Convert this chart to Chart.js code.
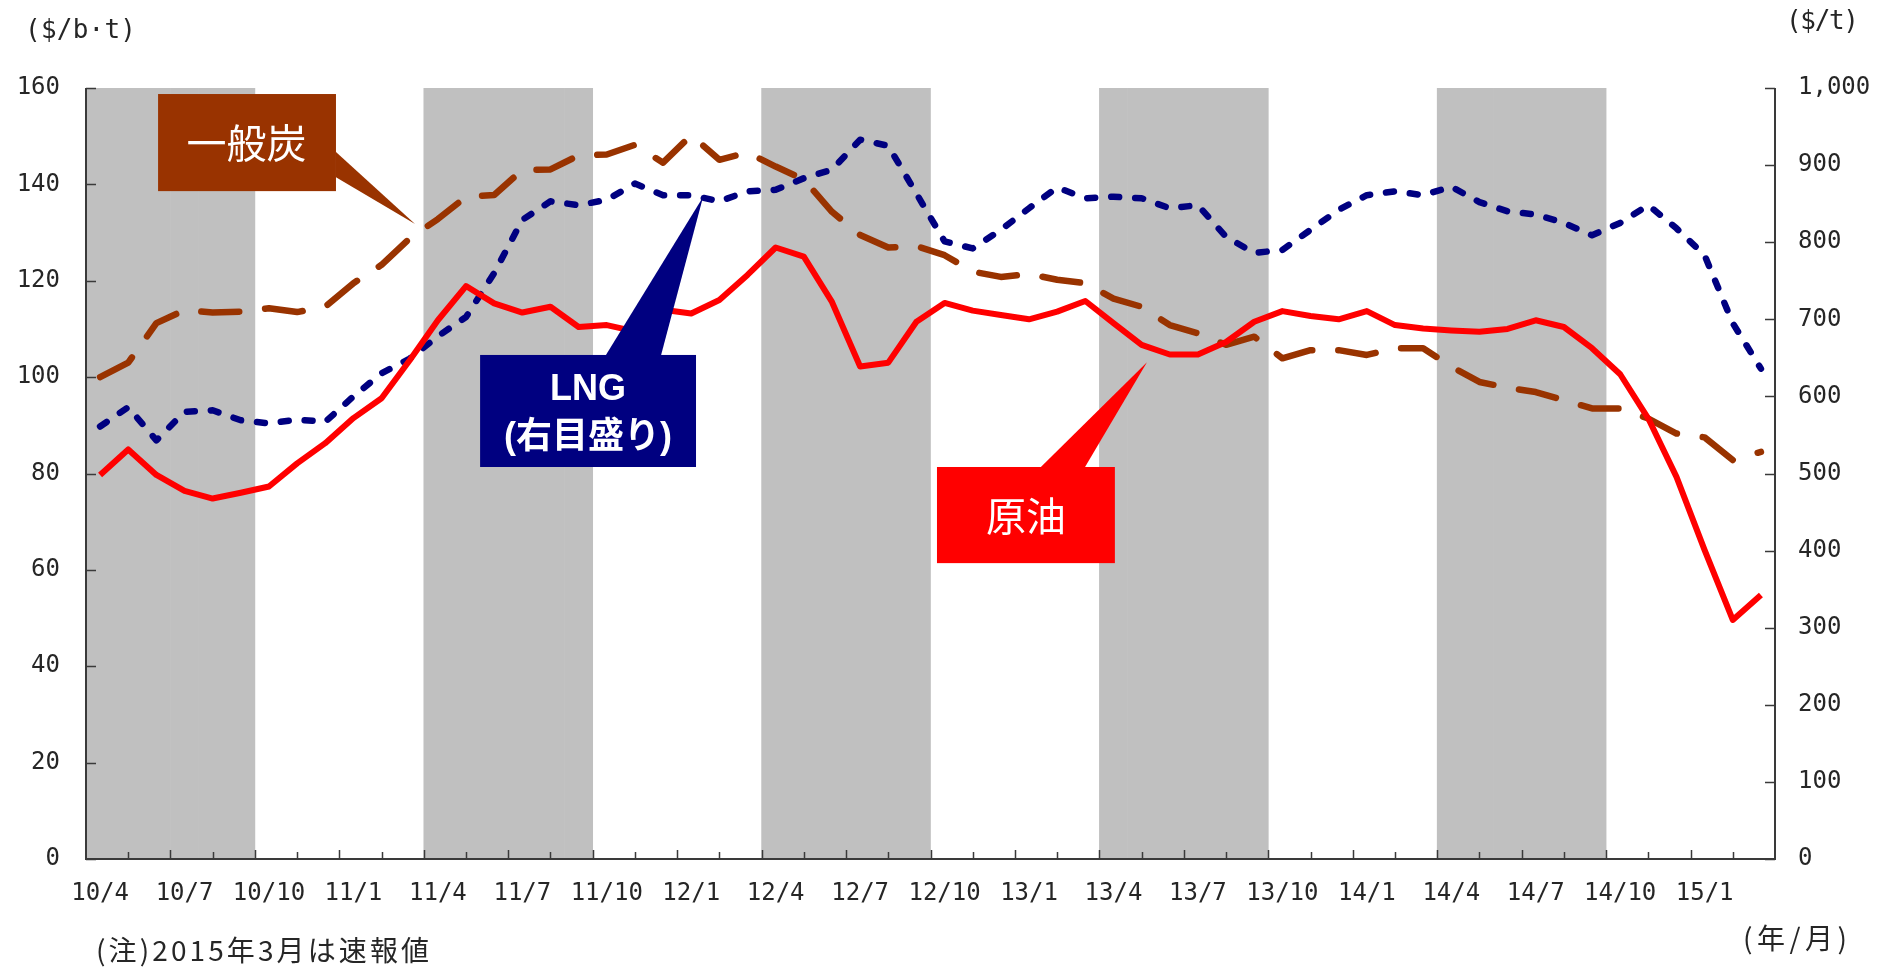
<!DOCTYPE html>
<html>
<head>
<meta charset="utf-8">
<script src="https://cdn.jsdelivr.net/npm/chart.js@4.4.1/dist/chart.umd.min.js"></script>
<style>
html,body{margin:0;padding:0;background:#ffffff;}
#wrap{width:1880px;height:968px;position:relative;}
</style>
</head>
<body>
<div id="wrap"><canvas id="c" width="1880" height="968"></canvas></div>
<script>
// ---- categories (year/month) ----
const months = [
  '10/4','10/5','10/6','10/7','10/8','10/9','10/10','10/11','10/12',
  '11/1','11/2','11/3','11/4','11/5','11/6','11/7','11/8','11/9','11/10','11/11','11/12',
  '12/1','12/2','12/3','12/4','12/5','12/6','12/7','12/8','12/9','12/10','12/11','12/12',
  '13/1','13/2','13/3','13/4','13/5','13/6','13/7','13/8','13/9','13/10','13/11','13/12',
  '14/1','14/2','14/3','14/4','14/5','14/6','14/7','14/8','14/9','14/10','14/11','14/12',
  '15/1','15/2','15/3'
];
// months labelled on the axis
const labelledMonths = ['10/4','10/7','10/10','11/1','11/4','11/7','11/10','12/1','12/4','12/7','12/10',
  '13/1','13/4','13/7','13/10','14/1','14/4','14/7','14/10','15/1'];

// ---- shaded periods (Apr–Sep) ----
const shade = [
  1,1,1,1,1,1,null,null,null,null,null,null,
  1,1,1,1,1,1,null,null,null,null,null,null,
  1,1,1,1,1,1,null,null,null,null,null,null,
  1,1,1,1,1,1,null,null,null,null,null,null,
  1,1,1,1,1,1,null,null,null,null,null,null
];

// ---- series ----
// 一般炭 ($/t, left axis)
const coal = [
  100.0,103.0,111.2,113.9,113.4,113.6,114.3,113.5,114.6,119.5,123.3,128.8,
  132.8,137.4,137.8,143.0,143.1,146.0,146.2,148.2,144.5,150.2,145.1,146.6,
  143.7,141.0,134.3,129.5,126.9,127.2,125.3,121.9,120.8,121.4,120.2,119.5,
  116.3,114.6,110.8,109.1,106.7,108.4,103.9,105.6,105.6,104.6,106.0,106.0,
  102.2,99.0,97.8,96.9,95.2,93.5,93.5,91.4,88.3,87.5,82.8,84.5
];
// 原油 ($/b, left axis)
const crude = [
  79.7,85.0,79.7,76.4,74.8,76.0,77.3,82.1,86.3,91.5,95.6,103.5,
  111.8,118.9,115.3,113.4,114.6,110.4,110.8,109.5,114.0,113.2,116.0,121.2,
  126.9,125.0,115.6,102.2,103.0,111.5,115.4,113.8,112.9,112.0,113.6,115.8,
  111.2,106.7,104.7,104.7,107.3,111.5,113.7,112.7,112.0,113.7,110.8,110.1,
  109.7,109.4,110.0,111.8,110.4,106.0,100.6,91.4,79.3,64.1,49.6,54.8
];
// LNG ($/t, right axis)
const lng = [
  561,586,543,580,582,569,565,570,567,600,630,649,
  678,703,760,829,853,848,855,876,861,861,853,866,
  868,883,894,933,925,863,801,792,816,844,871,857,
  859,857,844,848,807,786,790,816,842,861,866,861,
  872,852,840,836,825,809,825,848,818,783,695,636
];

// ---- axis ticks ----
const leftTicks = [0,20,40,60,80,100,120,140,160];
const rightTicks = [0,100,200,300,400,500,600,700,800,900,1000];

// ---- texts ----
const leftUnit = '($/b·t)';
const rightUnit = '($/t)';
const xUnit = '(年/月)';
const note = '(注)2015年3月は速報値';

// ---- callouts (positions in month index / left-axis value) ----
const callouts = [
  { fill:'#993300', box:[2.56,158.75,8.88,138.6],
    tri:[[8.88,146.7],[11.69,131.8],[8.88,141.5]],
    lines:[{t:'一般炭', m:5.70, v:148.6, font:'40px "Noto Sans CJK JP"'}] },
  { fill:'#000080', box:[14.0,104.6,21.67,81.35],
    tri:[[18.47,104.6],[21.92,137.4],[20.43,104.6]],
    lines:[{t:'LNG', m:17.83, v:97.3, font:'bold 36px "Liberation Sans", Arial, sans-serif'},
           {t:'(右目盛り)', m:17.83, v:87.4, font:'bold 36px "Liberation Sans", "Noto Sans CJK JP", sans-serif'}] },
  { fill:'#ff0000', box:[30.23,81.35,36.55,61.4],
    tri:[[33.92,81.35],[37.69,103.1],[35.49,81.35]],
    lines:[{t:'原油', m:33.39, v:71.2, font:'40px "Noto Sans CJK JP"'}] }
];

const AXIS_COLOR = '#3a3a3a';
const TEXT_COLOR = '#262626';
const tickFont = {family:'"DejaVu Sans Mono", monospace', size:24};

function fitText(ctx, text, x, cy, width){
  const chars = Array.from(text);
  const ws = chars.map(c => ctx.measureText(c).width);
  const total = ws.reduce((a,b)=>a+b,0);
  const sp = chars.length > 1 ? (width - total)/(chars.length - 1) : 0;
  ctx.textAlign = 'left';
  ctx.textBaseline = 'middle';
  let cx = x;
  chars.forEach((c,i)=>{ ctx.fillText(c, cx, cy); cx += ws[i] + sp; });
}

const overlay = {
  id:'overlay',
  afterDatasetsDraw(chart){
    const ctx = chart.ctx;
    const xs = chart.scales.x, yl = chart.scales.y, yr = chart.scales.y2;
    const area = chart.chartArea;
    const px = m => xs.getPixelForValue(m - 0.5);
    const py = v => yl.getPixelForValue(v);
    ctx.save();
    // axis lines
    ctx.strokeStyle = AXIS_COLOR;
    ctx.lineWidth = 2;
    ctx.beginPath();
    ctx.moveTo(area.left, area.top); ctx.lineTo(area.left, area.bottom);
    ctx.lineTo(area.right, area.bottom); ctx.lineTo(area.right, area.top);
    ctx.stroke();
    // tick marks (inside)
    ctx.lineWidth = 1.5;
    ctx.beginPath();
    leftTicks.forEach(v => { const y = Math.round(yl.getPixelForValue(v)) + 0.5; ctx.moveTo(area.left, y); ctx.lineTo(area.left + 10, y); });
    rightTicks.forEach(v => { const y = Math.round(yr.getPixelForValue(v)) + 0.5; ctx.moveTo(area.right, y); ctx.lineTo(area.right - 10, y); });
    for (let j = 1; j < 40; j++) {
      const m = j * 1.5;
      const x = Math.round(px(m)) + 0.5;
      const len = (j % 2 === 0) ? 9 : 7;
      ctx.moveTo(x, area.bottom); ctx.lineTo(x, area.bottom - len);
    }
    ctx.stroke();
    // callouts
    callouts.forEach(c => {
      ctx.fillStyle = c.fill;
      const x0 = px(c.box[0]), y0 = py(c.box[1]), x1 = px(c.box[2]), y1 = py(c.box[3]);
      ctx.fillRect(x0, y0, x1 - x0, y1 - y0);
      ctx.beginPath();
      c.tri.forEach((p,i) => { const X = px(p[0]), Y = py(p[1]); if (i===0) ctx.moveTo(X,Y); else ctx.lineTo(X,Y); });
      ctx.closePath();
      ctx.fill();
      ctx.fillStyle = '#ffffff';
      ctx.textAlign = 'center';
      ctx.textBaseline = 'middle';
      c.lines.forEach(l => { ctx.font = l.font; ctx.fillText(l.t, px(l.m), py(l.v)); });
    });
    // units & note
    ctx.fillStyle = TEXT_COLOR;
    ctx.font = '26px "DejaVu Sans Mono", monospace';
    fitText(ctx, leftUnit, 25, 31, 111);
    fitText(ctx, rightUnit, 1786, 22, 73);
    ctx.font = '28px "Noto Sans CJK JP"';
    fitText(ctx, xUnit, 1743, 938, 104);
    fitText(ctx, note, 96, 950, 333);
    ctx.restore();
  }
};

new Chart(document.getElementById('c').getContext('2d'), {
  data: {
    labels: months,
    datasets: [
      { type:'bar', data: shade, yAxisID:'yb', backgroundColor:'#c0c0c0', borderWidth:0,
        barPercentage:1, categoryPercentage:1, order:10 },
      { type:'line', label:'一般炭', data: coal, yAxisID:'y', borderColor:'#993300', borderWidth:6.5,
        borderDash:[38,26], borderCapStyle:'round', borderJoinStyle:'round', pointRadius:0, tension:0, fill:false, order:3 },
      { type:'line', label:'LNG', data: lng, yAxisID:'y2', borderColor:'#000080', borderWidth:6.5,
        borderDash:[8,16], borderCapStyle:'round', borderJoinStyle:'round', pointRadius:0, tension:0, fill:false, order:2 },
      { type:'line', label:'原油', data: crude, yAxisID:'y', borderColor:'#ff0000', borderWidth:6,
        borderJoinStyle:'round', pointRadius:0, tension:0, fill:false, order:1 }
    ]
  },
  options: {
    responsive:false, animation:false, devicePixelRatio:1,
    layout:{padding:{top:88,left:0,right:0,bottom:0}},
    plugins:{legend:{display:false}, tooltip:{enabled:false}},
    scales:{
      x:{ type:'category', offset:true,
          grid:{display:false, drawTicks:false}, border:{display:false},
          ticks:{autoSkip:false, maxRotation:0, minRotation:0, padding:20, font:tickFont, color:TEXT_COLOR,
                 callback:(v,i)=> labelledMonths.includes(months[i]) ? months[i] : ''},
          afterFit:s=>{ s.height = 109; } },
      y:{ position:'left', min:0, max:160,
          grid:{display:false, drawTicks:false}, border:{display:false},
          ticks:{stepSize:20, padding:26, font:tickFont, color:TEXT_COLOR},
          afterFit:s=>{ s.width = 86; } },
      y2:{ position:'right', min:0, max:1000,
          grid:{display:false, drawTicks:false}, border:{display:false},
          ticks:{stepSize:100, padding:23, font:tickFont, color:TEXT_COLOR,
                 callback:v=> v.toLocaleString('en-US')},
          afterFit:s=>{ s.width = 105; } },
      yb:{ display:false, min:0, max:1 }
    }
  },
  plugins:[overlay]
});
</script>
</body>
</html>
